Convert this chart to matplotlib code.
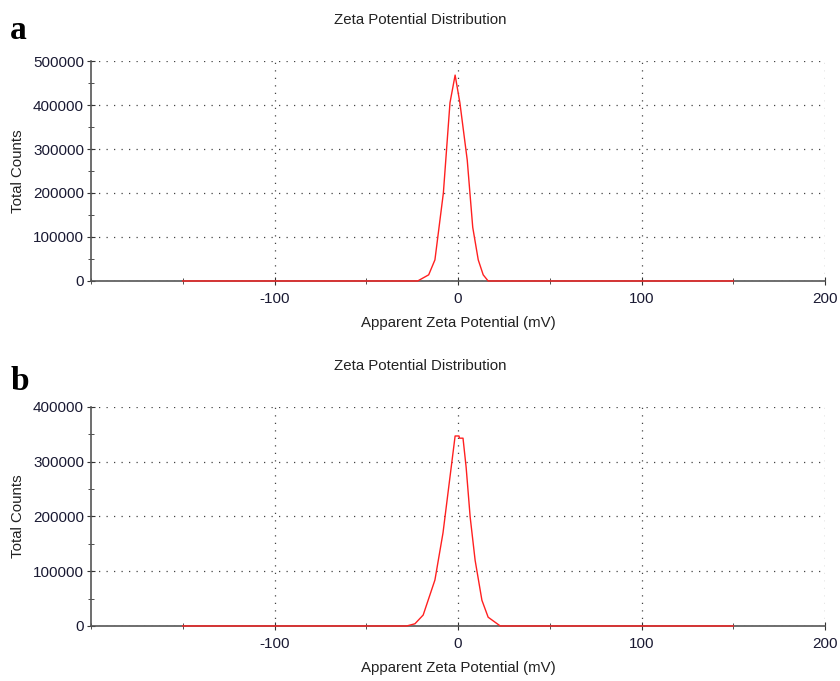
import matplotlib.pyplot as plt
from matplotlib.ticker import MultipleLocator

plt.rcParams['font.family'] = ['Liberation Sans', 'DejaVu Sans']
plt.rcParams['axes.unicode_minus'] = False

# panel a
xa = [-150, -22, -16, -12.6, -8, -4.4, -1.6, 1, 5, 8, 11, 13.7, 16.4, 150]
ya = [0, 0, 14000, 48000, 200000, 405000, 468000, 405000, 275000, 122000, 48000, 14000, 0, 0]

# panel b
xb = [-150, -28, -23.5, -19, -12.6, -8.2, -4.4, -1.6, 0.5, 0.8, 2.7, 4.4, 6.6, 9.3, 13, 16.4, 23, 150]
yb = [0, 0, 4000, 20000, 84000, 170000, 272000, 347000, 347000, 343000, 343000, 290000, 199000, 120000, 47000, 16000, 0, 0]

x_ticks = [-100, 0, 100, 200]


def draw_panel(ax, x, y, ymax, ystep):
    ax.plot(x, y, color='#ff2020', lw=1.0, zorder=5, clip_on=False)
    ax.set_xlim(-200, 200)
    ax.set_ylim(0, ymax)
    ax.set_xticks(x_ticks)
    ax.xaxis.set_minor_locator(MultipleLocator(50))
    ax.yaxis.set_major_locator(MultipleLocator(ystep))
    ax.yaxis.set_minor_locator(MultipleLocator(ystep / 2))
    for s in ['top', 'right']:
        ax.spines[s].set_visible(False)
    for s in ['left', 'bottom']:
        ax.spines[s].set_color('#555555')
        ax.spines[s].set_linewidth(1.2)
    ax.tick_params(which='both', direction='inout', color='#333333', labelsize=11,
                   labelcolor='#1a1a33', pad=2)
    ax.tick_params(which='major', length=6)
    ax.tick_params(which='minor', length=5)
    ax.tick_params(axis='x', pad=5)
    ax.grid(True, which='major', color='#444444', linestyle=(0, (1, 5)), lw=0.9)
    ax.set_xlabel('Apparent Zeta Potential (mV)', fontsize=10.8, color='#222222', labelpad=7)
    ax.set_ylabel('Total Counts', fontsize=10.8, color='#222222', labelpad=6)


fig = plt.figure(figsize=(8.4, 6.81), dpi=100)
ax1 = fig.add_axes([0.1083, 0.5874, 0.874, 0.323])
ax2 = fig.add_axes([0.1083, 0.0808, 0.874, 0.3216])

draw_panel(ax1, xa, ya, 500000, 100000)
draw_panel(ax2, xb, yb, 400000, 100000)

fig.text(0.5, 0.971, 'Zeta Potential Distribution', ha='center', va='center', fontsize=10.8, color='#222222')
fig.text(0.5, 0.462, 'Zeta Potential Distribution', ha='center', va='center', fontsize=10.8, color='#222222')
fig.text(0.012, 0.955, 'a', fontsize=24, fontweight='bold', family='Liberation Serif', va='center')
fig.text(0.012, 0.44, 'b', fontsize=24, fontweight='bold', family='Liberation Serif', va='center')

fig.savefig('out.png', dpi=100)
